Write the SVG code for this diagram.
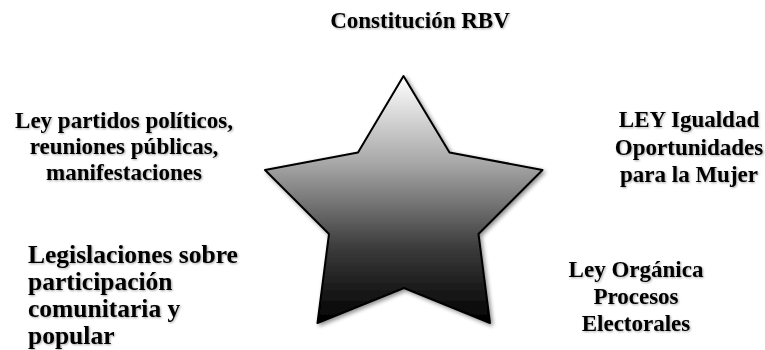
<svg xmlns="http://www.w3.org/2000/svg" width="765" height="350" viewBox="0 0 765 350">
<style>
.t{font-family:"Liberation Serif","Times New Roman",serif;font-weight:bold;fill:#000;}
.s18{font-size:23px;}
.s22{font-size:25.5px;}
.c{text-anchor:middle;}
</style>
<defs>
<linearGradient id="g" x1="0" y1="0" x2="0" y2="1">
<stop offset="0" stop-color="#ffffff"/>
<stop offset="0.35" stop-color="#a8a8a8"/>
<stop offset="0.7" stop-color="#3a3a3a"/>
<stop offset="1" stop-color="#000000"/>
</linearGradient>
<filter id="sh" x="-10%" y="-10%" width="120%" height="120%">
<feGaussianBlur in="SourceAlpha" stdDeviation="2"/>
<feOffset dx="2" dy="2"/>
<feComponentTransfer><feFuncA type="linear" slope="0.45"/></feComponentTransfer>
<feMerge><feMergeNode/><feMergeNode in="SourceGraphic"/></feMerge>
</filter>
<filter id="ts" x="-5%" y="-20%" width="110%" height="140%">
<feGaussianBlur in="SourceAlpha" stdDeviation="0.8"/>
<feOffset dx="1" dy="1"/>
<feComponentTransfer><feFuncA type="linear" slope="0.35"/></feComponentTransfer>
<feMerge><feMergeNode/><feMergeNode in="SourceGraphic"/></feMerge>
</filter>
</defs>
<g id="star">
<polygon points="403.5,76 449.5,152.5 542.5,170 478.5,234 490,323 404,288 317.5,323 329,234 265,170 358,152.5" fill="url(#g)" stroke="#000" stroke-width="2" stroke-linejoin="round" filter="url(#sh)"/>
</g>
<g id="connectors"></g>
<g filter="url(#ts)">
<g id="constitucion">
<text class="t s18 c" x="420" y="28">Constitución RBV</text>
</g>
<g id="ley-partidos">
<text class="t s18 c" x="124" y="128">Ley partidos políticos,</text>
<text class="t s18 c" x="124" y="154">reuniones públicas,</text>
<text class="t s18 c" x="124" y="180">manifestaciones</text>
</g>
<g id="legislaciones">
<text class="t s22" x="28" y="263">Legislaciones sobre</text>
<text class="t s22" x="28" y="290">participación</text>
<text class="t s22" x="28" y="317">comunitaria y</text>
<text class="t s22" x="28" y="344">popular</text>
</g>
<g id="ley-igualdad">
<text class="t s18 c" x="689" y="127">LEY Igualdad</text>
<text class="t s18 c" x="689" y="155">Oportunidades</text>
<text class="t s18 c" x="689" y="182">para la Mujer</text>
</g>
<g id="ley-organica">
<text class="t s18 c" x="636" y="277">Ley Orgánica</text>
<text class="t s18 c" x="636" y="304">Procesos</text>
<text class="t s18 c" x="636" y="331">Electorales</text>
</g>
</g>
</svg>
